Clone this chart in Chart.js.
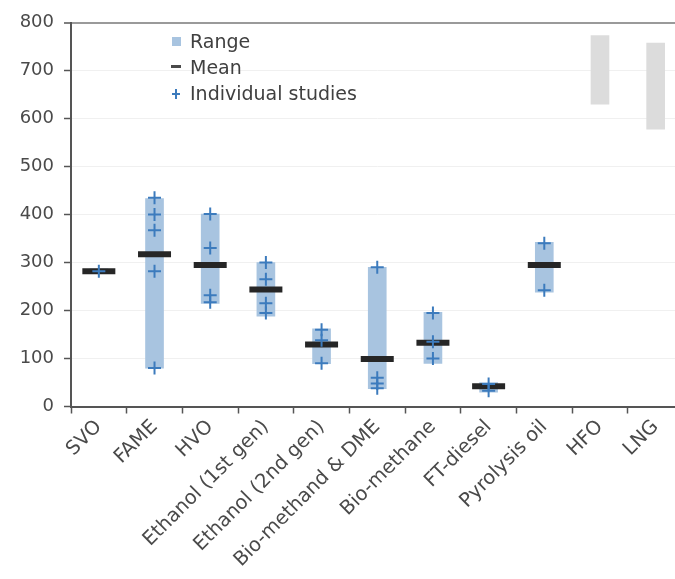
<!DOCTYPE html>
<html>
<head>
<meta charset="utf-8">
<script src="https://cdn.jsdelivr.net/npm/chart.js@4.4.1/dist/chart.umd.min.js"></script>
<style>
  html, body { margin: 0; padding: 0; background: #fff; overflow: hidden; }
  #wrap { position: relative; width: 675px; height: 579px; overflow: hidden; }
  #chart { position: absolute; left: 0; top: 0; }
  #legend { position: absolute; left: 0; top: 0; font-family: "DejaVu Sans", sans-serif; font-size: 19px; color: #404040; }
  #legend .row { position: absolute; left: 190px; line-height: 26px; white-space: nowrap; }
  #legend .mk { position: absolute; }
</style>
</head>
<body>
<div id="wrap">
  <canvas id="chart" width="706" height="579"></canvas>
  <div id="legend">
    <div class="mk" style="left:172px;top:37px;width:9px;height:9px;background:#a8c4e0"></div>
    <div class="row" style="top:28px">Range</div>
    <div class="mk" style="left:171px;top:65px;width:10px;height:3px;background:#4a4a4a"></div>
    <div class="row" style="top:54px">Mean</div>
    <div class="mk" style="left:172px;top:93px;width:8px;height:2px;background:#3c7bbd"></div>
    <div class="mk" style="left:175px;top:89px;width:2px;height:10px;background:#3c7bbd"></div>
    <div class="row" style="top:80px">Individual studies</div>
  </div>
</div>
<script>
const categories = ["SVO", "FAME", "HVO", "Ethanol (1st gen)", "Ethanol (2nd gen)",
  "Bio-methand & DME", "Bio-methane", "FT-diesel", "Pyrolysis oil", "HFO", "LNG"];
const fossil = ["HFO", "LNG"];
const rangeLow  = [277, 80, 215, 188, 89, 37, 90, 30, 238, 630, 578];
const rangeHigh = [287, 433, 401, 300, 162, 290, 196, 50, 342, 773, 757];
const means = [282, 317, 295, 244, 129, 99, 133, 42, 295, null, null];
const studies = [
  [282],
  [435, 400, 367, 282, 80],
  [401, 330, 232, 217],
  [300, 265, 215, 195],
  [160, 138, 90],
  [290, 60, 48, 38],
  [195, 135, 100],
  [47, 33],
  [340, 242],
  [],
  []
];
const yTicks = [0, 100, 200, 300, 400, 500, 600, 700, 800];

const studyPoints = studies.flatMap((vals, i) => vals.map(v => ({ x: categories[i], y: v })));

new Chart(document.getElementById("chart"), {
  type: "bar",
  data: {
    labels: categories,
    datasets: [
      {
        label: "Range",
        data: categories.map((c, i) => [rangeLow[i], rangeHigh[i]]),
        backgroundColor: categories.map(c => fossil.includes(c) ? "#dcdcdc" : "#a8c4e0"),
        barThickness: 18,
        borderSkipped: false,
        order: 3
      },
      {
        type: "line",
        label: "Mean",
        data: means,
        showLine: false,
        pointStyle: "line",
        pointRadius: 16.5,
        pointBorderWidth: 6,
        pointBorderColor: "#262626",
        order: 2
      },
      {
        type: "line",
        label: "Individual studies",
        data: studyPoints,
        showLine: false,
        pointStyle: "cross",
        pointRadius: 6.5,
        pointBorderWidth: 2,
        pointBorderColor: "#3c7bbd",
        order: 1
      }
    ]
  },
  options: {
    responsive: false,
    animation: false,
    layout: { padding: { top: 22, right: 8.5, bottom: 0, left: 0 } },
    plugins: { legend: { display: false }, tooltip: { enabled: false } },
    scales: {
      x: {
        offset: true,
        grid: { offset: true, drawOnChartArea: false, tickLength: 7, tickColor: "#555", tickWidth: 1.5 },
        border: { color: "#555", width: 2 },
        ticks: { font: { family: "DejaVu Sans", size: 19.5 }, color: "#4a4a4a", minRotation: 45, maxRotation: 45, autoSkip: false, padding: 2 },
        afterFit: s => { s.height = 172.5; }
      },
      y: {
        min: 0,
        max: 800,
        afterBuildTicks: s => { s.ticks = yTicks.map(v => ({ value: v })); },
        grid: {
          color: c => c.tick && c.tick.value === 800 ? "#9a9a9a" : "#f0f0f0",
          lineWidth: c => c.tick && c.tick.value === 800 ? 2 : 1,
          tickLength: 7,
          tickColor: "#555",
          tickWidth: 1.5
        },
        border: { color: "#555", width: 2 },
        ticks: { font: { family: "DejaVu Sans", size: 18 }, color: "#4a4a4a", padding: 10 },
        afterFit: s => { s.width = 71; }
      }
    }
  }
});
</script>
</body>
</html>
